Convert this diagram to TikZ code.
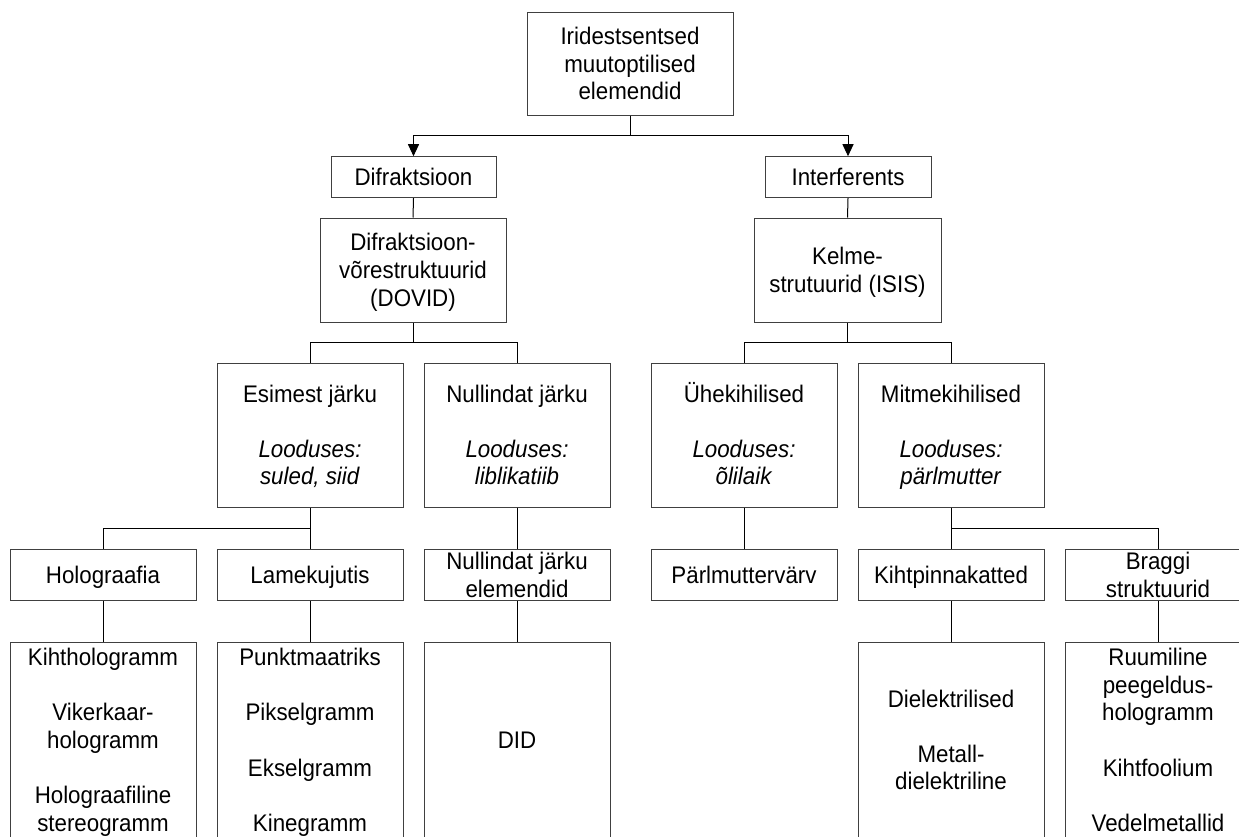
\documentclass[tikz,border=0pt]{standalone}
\usepackage{fontspec}
\setmainfont[FakeStretch=0.93]{Liberation Sans}
\usetikzlibrary{arrows.meta}
\tikzset{
  box/.style={draw=black!75, line width=1pt, rectangle, inner xsep=0pt, inner ysep=-12pt,
    align=center, font=\fontsize{24}{27.6}\selectfont, minimum width=186pt},
  conn/.style={draw=black, line width=1pt},
  arr/.style={conn, -{Triangle[length=12pt,width=11pt]}},
}
\newcommand\bl{\mbox{}}
\newcommand\st{\rule[-5pt]{0pt}{27pt}}
\begin{document}
\begin{tikzpicture}[x=1pt,y=-1pt]
\fill[white] (0,0) rectangle (1239,836);
\useasboundingbox (0,0) rectangle (1239,836);
% level 0
\node[box, minimum width=206pt, minimum height=103pt] (root) at (630,63.5) {\st Iridestsentsed\\muutoptilised\\elemendid\st};
% level 1
\node[box, minimum width=165pt, minimum height=41pt] (dif) at (413.5,177.2) {\st Difraktsioon};
\node[box, minimum width=166pt, minimum height=41pt] (int) at (848,177.2) {\st Interferents};
% level 2
\node[box, minimum height=104pt] (dovid) at (413,270) {\st Difraktsioon-\\võrestruktuurid\\(DOVID)\st};
\node[box, minimum width=187pt, minimum height=104pt] (isis) at (847.5,270) {\st Kelme-\\strutuurid (ISIS)\st};
% level 3
\node[box, minimum height=144pt] (esim) at (310,435) {\st Esimest järku\\\bl\\\textit{Looduses:}\\\textit{suled, siid}\st};
\node[box, minimum height=144pt] (null) at (517,435) {\st Nullindat järku\\\bl\\\textit{Looduses:}\\\textit{liblikatiib}\st};
\node[box, minimum height=144pt] (yhe) at (744,435) {\st Ühekihilised\\\bl\\\textit{Looduses:}\\\textit{õlilaik}\st};
\node[box, minimum height=144pt] (mitme) at (951,435) {\st Mitmekihilised\\\bl\\\textit{Looduses:}\\\textit{pärlmutter}\st};
% level 4
\node[box, minimum height=51pt] (holo) at (103,575) {\st Holograafia};
\node[box, minimum height=51pt] (lame) at (310,575) {\st Lamekujutis};
\node[box, minimum height=51pt] (nje) at (517,575) {\st Nullindat järku\\elemendid\st};
\node[box, minimum height=51pt] (parl) at (744,575) {\st Pärlmuttervärv};
\node[box, minimum height=51pt] (kiht) at (951,575) {\st Kihtpinnakatted};
\node[box, minimum height=51pt] (bragg) at (1158,575) {\st Braggi\\struktuurid\st};
% level 5
\node[box, minimum height=196pt] (kh) at (103,740) {\st Kihthologramm\\\bl\\Vikerkaar-\\hologramm\\\bl\\Holograafiline\\stereogramm\st};
\node[box, minimum height=196pt] (pm) at (310,740) {\st Punktmaatriks\\\bl\\Pikselgramm\\\bl\\Ekselgramm\\\bl\\Kinegramm\st};
\node[box, minimum height=196pt] (did) at (517,740) {\st DID};
\node[box, minimum height=196pt] (diel) at (951,740) {\st Dielektrilised\\\bl\\Metall-\\dielektriline\st};
\node[box, minimum height=196pt] (ruum) at (1158,740) {\st Ruumiline\\peegeldus-\\hologramm\\\bl\\Kihtfoolium\\\bl\\Vedelmetallid\st};
% junction points
\coordinate (j0) at (630,135);
\coordinate (j1) at (413,342);
\coordinate (j2) at (847.5,342);
\coordinate (j3) at (310,528);
\coordinate (j4) at (951,528);
% connectors
\draw[arr] (root.south) -- (j0) -| (dif.north);
\draw[arr] (j0) -| (int.north);
\draw[conn] (dif.south) -- (dovid.north);
\draw[conn] (int.south) -- (isis.north);
\draw[conn] (dovid.south) -- (j1) -| (esim.north);
\draw[conn] (j1) -| (null.north);
\draw[conn] (isis.south) -- (j2) -| (yhe.north);
\draw[conn] (j2) -| (mitme.north);
\draw[conn] (esim.south) -- (lame.north);
\draw[conn] (j3) -| (holo.north);
\draw[conn] (null.south) -- (nje.north);
\draw[conn] (yhe.south) -- (parl.north);
\draw[conn] (mitme.south) -- (kiht.north);
\draw[conn] (j4) -| (bragg.north);
\draw[conn] (holo.south) -- (kh.north);
\draw[conn] (lame.south) -- (pm.north);
\draw[conn] (nje.south) -- (did.north);
\draw[conn] (kiht.south) -- (diel.north);
\draw[conn] (bragg.south) -- (ruum.north);
\end{tikzpicture}
\end{document}
